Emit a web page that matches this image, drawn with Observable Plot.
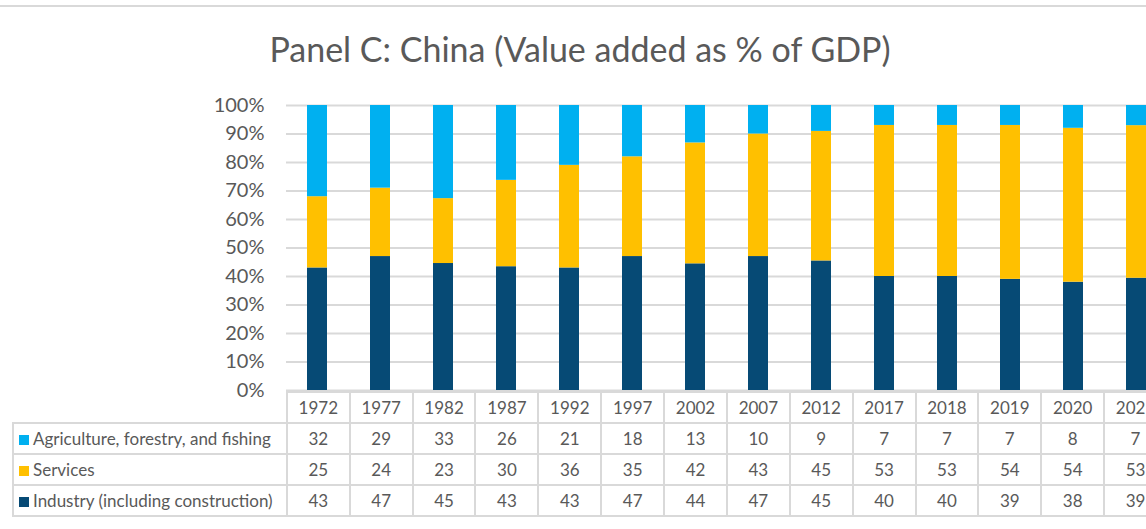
<!DOCTYPE html>
<html><head><meta charset="utf-8">
<script src="https://cdn.jsdelivr.net/npm/d3@7"></script>
<script src="https://cdn.jsdelivr.net/npm/@observablehq/plot@0.6"></script>
<style>
body{margin:0;overflow:hidden;background:#fff;font-family:Lato,"Open Sans",sans-serif;color:#595959}
#wrap{position:relative;width:1168px;height:529px;overflow:hidden}
#topline{position:absolute;left:0;top:5px;width:1168px;border-top:2px solid #d9d9d9}
#title{position:absolute;top:28px;left:0;width:1160px;text-align:center;font-size:34px;font-weight:400;white-space:nowrap}
#chart{position:absolute;top:90px;left:0}
#tbl{position:absolute;top:391px;left:12px;border-collapse:collapse;table-layout:fixed;font-size:17px}
#tbl td{border:2px solid #d9d9d9;height:29px;padding:0;text-align:center;white-space:nowrap;overflow:hidden}
#tbl td.lab{text-align:left;padding-left:5px}
#tbl td.blank{border:none;border-bottom:2px solid #d9d9d9}
.sw{display:inline-block;width:10px;height:10px;margin-right:4px;vertical-align:0px}
</style></head>
<body>
<div id="wrap">
<div id="topline"></div>
<div id="title">Panel C: China (Value added as % of GDP)</div>
<div id="chart"></div>
<table id="tbl"></table>
</div>
<script>
const years = ["1972","1977","1982","1987","1992","1997","2002","2007","2012","2017","2018","2019","2020","2021"];
const agriculture = [32,29,33,26,21,18,13,10,9,7,7,7,8,7];
const services = [25,24,23,30,36,35,42,43,45,53,53,54,54,53];
const industry = [43,47,45,43,43,47,44,47,45,40,40,39,38,39];
const seriesNames = ["Agriculture, forestry, and fishing","Services","Industry (including construction)"];
const seriesColors = ["#00B0F0","#FFC000","#064A75"];
const yTicks = [0,0.1,0.2,0.3,0.4,0.5,0.6,0.7,0.8,0.9,1];

const seriesValues = [agriculture, services, industry];
// stacking order bottom→top: Industry, Services, Agriculture
const data = [];
years.forEach((yr, i) => {
  [2,1,0].forEach(s => data.push({year: yr, series: seriesNames[s], value: seriesValues[s][i]}));
});

const chart = Plot.plot({
  width: 1168, height: 316,
  marginLeft: 286, marginRight: 0, marginTop: 15, marginBottom: 16,
  x: {domain: years, paddingInner: 0.68, paddingOuter: 0.34, axis: null},
  y: {domain: [0,1]},
  color: {domain: seriesNames, range: seriesColors},
  style: {fontFamily: "Lato, 'Open Sans', sans-serif", fontSize: "20px", color: "#595959", background: "transparent"},
  marks: [
    Plot.gridY(yTicks, {stroke: "#d9d9d9", strokeOpacity: 1, strokeWidth: 2}),
    Plot.axisY(yTicks, {tickSize: 0, tickPadding: 22, tickFormat: d => Math.round(d*100) + "%", label: null, fill: "#595959"}),
    Plot.barY(data, Plot.stackY({x: "year", y: "value", fill: "series", offset: "normalize"}))
  ]
});
document.getElementById("chart").appendChild(chart);

// table
const tbl = document.getElementById("tbl");
const cg = document.createElement("colgroup");
let c = document.createElement("col"); c.style.width = "274px"; cg.appendChild(c);
years.forEach(() => { const cc = document.createElement("col"); cc.style.width = "63px"; cg.appendChild(cc); });
tbl.appendChild(cg);
let tr = document.createElement("tr");
let td = document.createElement("td"); td.className = "blank"; tr.appendChild(td);
years.forEach(y => { const t = document.createElement("td"); t.textContent = y; tr.appendChild(t); });
tbl.appendChild(tr);
seriesNames.forEach((name, s) => {
  const r = document.createElement("tr");
  const l = document.createElement("td"); l.className = "lab";
  const sw = document.createElement("span"); sw.className = "sw"; sw.style.background = seriesColors[s];
  l.appendChild(sw); l.appendChild(document.createTextNode(name));
  r.appendChild(l);
  seriesValues[s].forEach(v => { const t = document.createElement("td"); t.textContent = v; r.appendChild(t); });
  tbl.appendChild(r);
});
</script>
</body></html>
